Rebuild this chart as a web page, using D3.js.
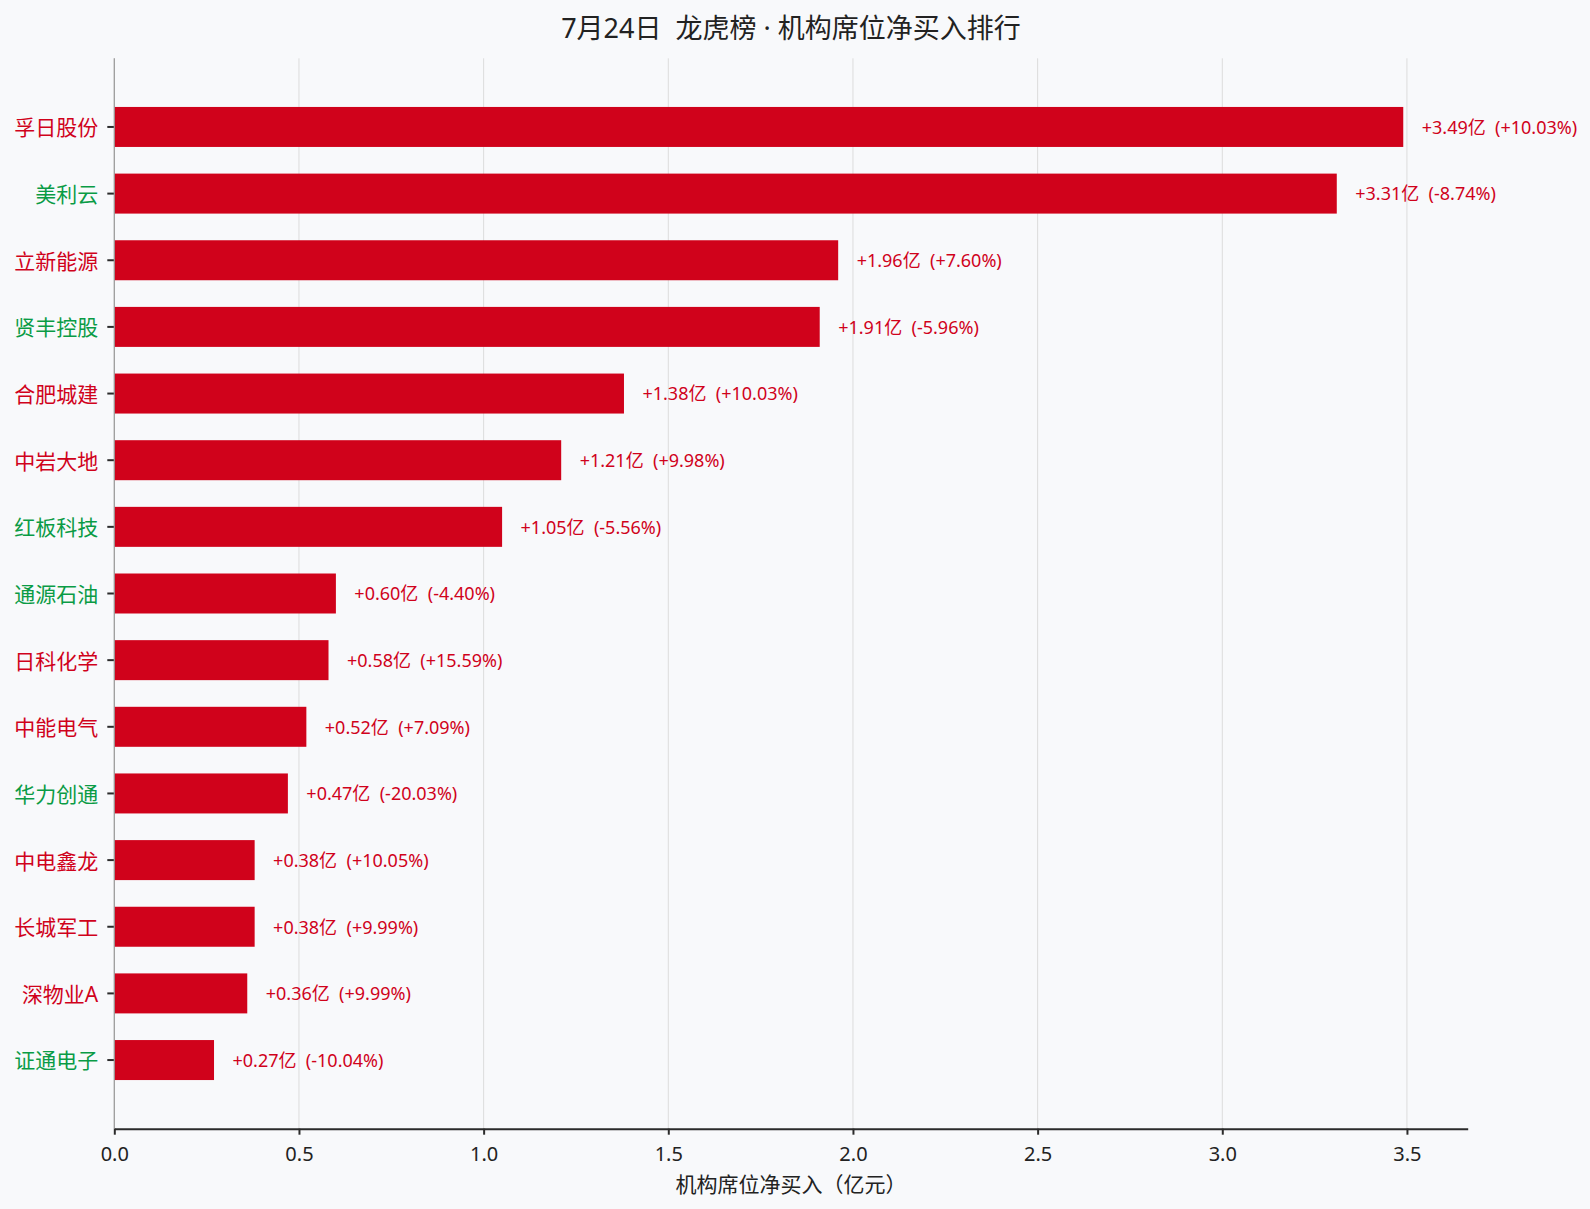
<!DOCTYPE html>
<html>
<head>
<meta charset="utf-8">
<script src="https://cdn.jsdelivr.net/npm/d3@7"></script>
<style>
  html, body { margin: 0; padding: 0; background: #f8f9fb; }
  svg { display: block; font-family: "Noto Sans", "Noto Sans CJK SC", sans-serif; }
</style>
</head>
<body>
<div id="chart"></div>
<script>
const categories = ["孚日股份","美利云","立新能源","贤丰控股","合肥城建","中岩大地","红板科技","通源石油","日科化学","中能电气","华力创通","中电鑫龙","长城军工","深物业A","证通电子"];
const netBuy = [3.49, 3.31, 1.96, 1.91, 1.38, 1.21, 1.05, 0.60, 0.58, 0.52, 0.47, 0.38, 0.38, 0.36, 0.27];
const pctChange = [10.03, -8.74, 7.60, -5.96, 10.03, 9.98, -5.56, -4.40, 15.59, 7.09, -20.03, 10.05, 9.99, 9.99, -10.04];
const xTicks = [0, 0.5, 1.0, 1.5, 2.0, 2.5, 3.0, 3.5];
const titleText = "7月24日  龙虎榜 · 机构席位净买入排行";
const xLabelText = "机构席位净买入（亿元）";

const W = 1590, H = 1209;
const margin = {left: 114.3, right: 122.3, top: 58.3, bottom: 80.3};
const RED = "#d0021b", GREEN = "#0a9b45";

const svg = d3.select("#chart").append("svg").attr("width", W).attr("height", H);
svg.append("rect").attr("width", W).attr("height", H).attr("fill", "#f8f9fb");

const x = d3.scaleLinear().domain([0, d3.max(netBuy) * 1.05]).range([margin.left, W - margin.right]);
const n = categories.length;
const barH = 0.6;
const pad = (n - 1 + barH) * 0.05;
const y = d3.scaleLinear().domain([-barH / 2 - pad, n - 1 + barH / 2 + pad]).range([margin.top, H - margin.bottom]);

// grid
svg.append("g").selectAll("line").data(xTicks).join("line")
  .attr("x1", d => x(d)).attr("x2", d => x(d))
  .attr("y1", margin.top).attr("y2", H - margin.bottom)
  .attr("stroke", "#dcdcdc").attr("stroke-width", 1);

// bars
svg.append("g").selectAll("rect").data(netBuy).join("rect")
  .attr("x", x(0))
  .attr("y", (d, i) => y(i - barH / 2))
  .attr("width", d => x(d) - x(0))
  .attr("height", y(barH) - y(0))
  .attr("fill", RED);

// value labels
svg.append("g").selectAll("text").data(netBuy).join("text")
  .attr("x", d => x(d + 0.05))
  .attr("y", (d, i) => y(i))
  .attr("dy", "0.38em")
  .attr("font-size", 18)
  .attr("fill", RED)
  .style("white-space", "pre")
  .text((d, i) => `+${d.toFixed(2)}亿  (${pctChange[i] >= 0 ? "+" : ""}${pctChange[i].toFixed(2)}%)`);

// y axis: ticks and labels
const yg = svg.append("g");
yg.selectAll("line").data(categories).join("line")
  .attr("x1", margin.left - 7).attr("x2", margin.left)
  .attr("y1", (d, i) => y(i)).attr("y2", (d, i) => y(i))
  .attr("stroke", "#2b2b2b").attr("stroke-width", 2);
yg.selectAll("text").data(categories).join("text")
  .attr("x", margin.left - 16)
  .attr("y", (d, i) => y(i))
  .attr("dy", "0.4em")
  .attr("text-anchor", "end")
  .attr("font-size", 21)
  .attr("fill", (d, i) => pctChange[i] >= 0 ? RED : GREEN)
  .text(d => d);

// left spine
svg.append("line")
  .attr("x1", margin.left).attr("x2", margin.left)
  .attr("y1", margin.top).attr("y2", H - margin.bottom)
  .attr("stroke", "#999").attr("stroke-width", 1.2);

// x axis
const xAxis = d3.axisBottom(x).tickValues(xTicks).tickFormat(d3.format(".1f")).tickSizeInner(6).tickSizeOuter(0).tickPadding(12);
const xg = svg.append("g").attr("transform", `translate(0,${H - margin.bottom})`).call(xAxis);
xg.select(".domain").attr("stroke", "#2b2b2b").attr("stroke-width", 2);
xg.selectAll(".tick line").attr("stroke", "#2b2b2b").attr("stroke-width", 2);
xg.selectAll(".tick text").attr("font-size", 20).attr("fill", "#222").attr("font-family", "'Noto Sans', 'Noto Sans CJK SC', sans-serif");

// x label
svg.append("text")
  .attr("x", (x.range()[0] + x.range()[1]) / 2)
  .attr("y", 1192)
  .attr("text-anchor", "middle")
  .attr("font-size", 21)
  .attr("fill", "#222")
  .text(xLabelText);

// title
svg.append("text")
  .attr("x", (x.range()[0] + x.range()[1]) / 2)
  .attr("y", 38)
  .attr("text-anchor", "middle")
  .attr("font-size", 27)
  .attr("fill", "#222")
  .style("white-space", "pre")
  .text(titleText);
</script>
</body>
</html>
